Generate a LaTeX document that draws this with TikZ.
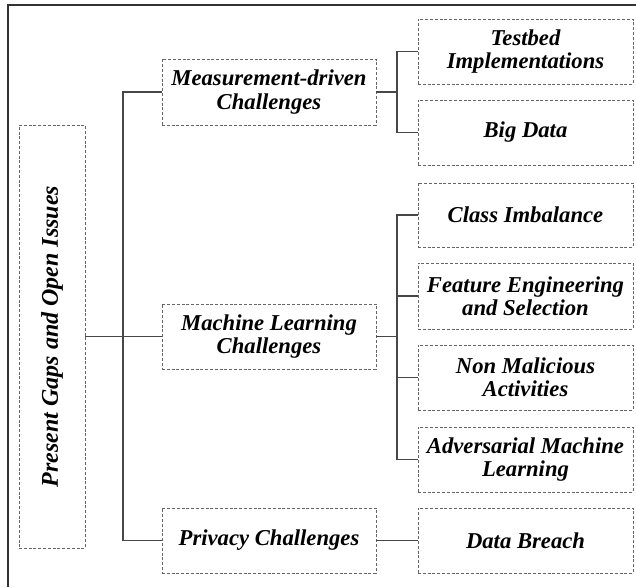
\documentclass[tikz,border=0pt]{standalone}
\usepackage{fontspec}
\setmainfont{Liberation Serif}
\begin{document}
\begin{tikzpicture}[x=0.75pt,y=-0.75pt,
  dbox/.style 2 args={draw=black!60, dash pattern=on 2.2pt off 1.4pt, line width=0.6pt,
    minimum width=#1*0.75pt, minimum height=#2*0.75pt, inner sep=0pt, align=center,
    font=\bfseries\itshape\fontsize{17}{17.4}\selectfont},
  conn/.style={draw=black!72, line width=0.85pt},
  frame/.style={draw=black!80, line width=1.1pt}]
\useasboundingbox (0,0) rectangle (636,587);
% frame (top and left only)
\coordinate (f0) at (8,587);
\coordinate (f1) at (8,5);
\coordinate (f2) at (636,5);
\draw[frame] (f0) -- (f1) -- (f2);
% root
\node[dbox={66}{423}] (root) at (52,336.5) {};
\node[rotate=90, font=\bfseries\itshape\fontsize{18}{18}\selectfont] (roottext) at (root.center) {Present Gaps and Open Issues};
% middle level
\node[dbox={214}{66}] (meas) at (269,92) {Measurement-driven\\Challenges};
\node[dbox={214}{65}] (ml) at (269,336.5) {Machine Learning\\Challenges};
\node[dbox={214}{65}] (priv) at (269,540.5) {Privacy Challenges};
% right level
\node[dbox={215}{65}] (tb) at (525.5,51.5) {Testbed\\Implementations};
\node[dbox={215}{65}] (bd) at (525.5,132.5) {Big Data};
\node[dbox={215}{64}] (ci) at (525.5,215) {Class Imbalance};
\node[dbox={215}{66}] (fe) at (525.5,296) {Feature Engineering\\and Selection};
\node[dbox={215}{65}] (nm) at (525.5,377.5) {Non Malicious\\Activities};
\node[dbox={215}{65}] (am) at (525.5,459.5) {Adversarial Machine\\Learning};
\node[dbox={215}{65}] (db) at (525.5,540.5) {Data Breach};
% trunks
\coordinate (t) at (123,0);
\coordinate (s) at (397,0);
\draw[conn] (root.east) -- (root.east -| t);
\draw[conn] (meas.west) -- (meas.west -| t) -- (priv.west -| t) -- (priv.west);
\draw[conn] (ml.west) -- (ml.west -| t);
\draw[conn] (meas.east) -- (meas.east -| s);
\draw[conn] (tb.west) -- (tb.west -| s) -- (bd.west -| s) -- (bd.west);
\draw[conn] (ml.east) -- (ml.east -| s);
\draw[conn] (ci.west) -- (ci.west -| s) -- (am.west -| s) -- (am.west);
\draw[conn] (fe.west) -- (fe.west -| s);
\draw[conn] (nm.west) -- (nm.west -| s);
\draw[conn] (priv.east) -- (db.west);
\end{tikzpicture}
\end{document}
